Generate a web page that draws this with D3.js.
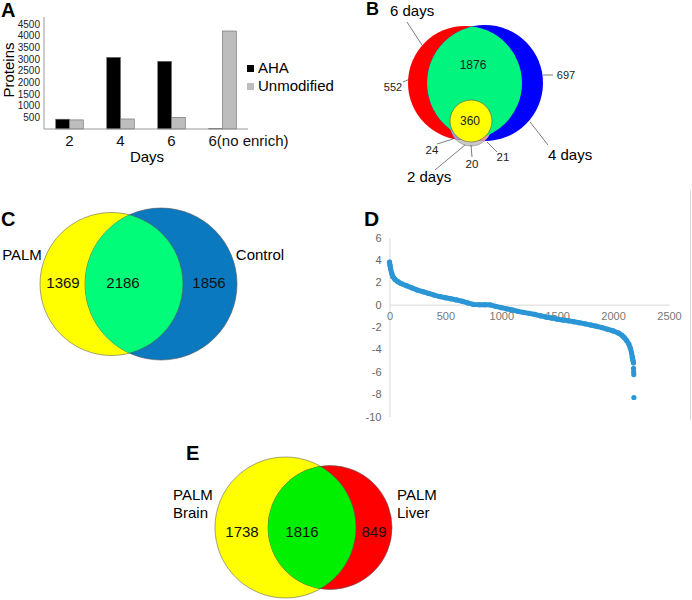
<!DOCTYPE html>
<html>
<head>
<meta charset="utf-8">
<script src="https://cdn.jsdelivr.net/npm/d3@7"></script>
<style>
  body { margin: 0; background: #fff; }
  svg { font-family: "Liberation Sans", Arial, sans-serif; }
</style>
</head>
<body>
<svg id="fig" width="692" height="600"></svg>
<script>
// ---------- data ----------
// A: proteins per labelling time
var dayLabels = ["2", "4", "6", "6(no enrich)"];
var seriesNames = ["AHA", "Unmodified"];
var ahaCounts = [420, 3070, 2900, 15];
var unmodCounts = [390, 430, 500, 4200];
var proteinTicks = [500, 1000, 1500, 2000, 2500, 3000, 3500, 4000, 4500];

// B: three-way overlap (6, 4, 2 days)
var setNamesB = ["6 days", "4 days", "2 days"];
var countsB = [552, 697, 1876, 360, 24, 20, 21]; // 6 only, 4 only, 6&4, all, 2&6, 2 only, 2&4

// C: PALM vs control
var setNamesC = ["PALM", "Control"];
var countsC = [1369, 2186, 1856];

// D: ranked ratios
var rankIdx = [0, 5, 10, 20, 30, 50, 75, 100, 150, 200, 250, 300, 350, 400, 450, 500, 550, 600, 650, 700,
  750, 800, 850, 900, 950, 1000, 1050, 1100, 1150, 1200, 1250, 1300, 1350, 1400, 1450, 1500, 1550, 1600,
  1650, 1700, 1750, 1800, 1850, 1900, 1950, 2000, 2050, 2080, 2100, 2120, 2140, 2155, 2165, 2172, 2178, 2182,
  2183, 2184, 2185, 2186];
var ratioVals = [3.8, 3.5, 3.2, 2.8, 2.5, 2.25, 2.05, 1.9, 1.7, 1.5, 1.3, 1.15, 1.0, 0.85, 0.72, 0.62, 0.52, 0.42, 0.3, 0.15,
  0.02, 0.0, 0.0, -0.02, -0.15, -0.27, -0.38, -0.48, -0.6, -0.7, -0.78, -0.88, -1.0, -1.1, -1.2, -1.3, -1.38, -1.45,
  -1.53, -1.62, -1.72, -1.82, -1.93, -2.05, -2.2, -2.35, -2.55, -2.75, -2.95, -3.2, -3.5, -3.9, -4.3, -4.7, -5.0, -5.2,
  -5.7, -6.0, -6.25, -8.3];
var ratioTicks = [-10, -8, -6, -4, -2, 0, 2, 4, 6];
var rankTicks = [0, 500, 1000, 1500, 2000, 2500];
var outlierCount = 4;

// E: brain vs liver
var setNamesE = [["PALM", "Brain"], ["PALM", "Liver"]];
var countsE = [1738, 1816, 849];

var svg = d3.select("#fig");

function panelLetter(t, x, y, size) {
  svg.append("text").attr("x", x).attr("y", y)
    .style("font-size", (size || 21) + "px").style("font-weight", "bold").text(t);
}

/* ---------------- Panel A ---------------- */
panelLetter("A", 1, 17, 20);
var gA = svg.append("g");
var x0 = d3.scaleBand().domain(dayLabels).range([44, 248]).paddingInner(0.46).paddingOuter(0.23);
var x1 = d3.scaleBand().domain(seriesNames).range([0, x0.bandwidth()]);
var yA = d3.scaleLinear().domain([0, 4500]).range([129, 24]);
var colA = { "AHA": "#000000", "Unmodified": "#bdbdbd" };

var barRows = dayLabels.map(function(d, i) {
  return { day: d, values: [{ s: "AHA", v: ahaCounts[i] }, { s: "Unmodified", v: unmodCounts[i] }] };
});
gA.selectAll("g.grp").data(barRows).enter().append("g")
  .attr("transform", function(d) { return "translate(" + x0(d.day) + ",0)"; })
  .selectAll("rect").data(function(d) { return d.values; }).enter().append("rect")
  .attr("x", function(d) { return x1(d.s); })
  .attr("y", function(d) { return yA(d.v); })
  .attr("width", x1.bandwidth())
  .attr("height", function(d) { return yA(0) - yA(d.v); })
  .attr("fill", function(d) { return colA[d.s]; })
  .attr("stroke", "#666").attr("stroke-width", 0.6);

var yAxisA = gA.append("g").attr("transform", "translate(44,0)")
  .call(d3.axisLeft(yA).tickValues(proteinTicks).tickSize(0).tickPadding(4).tickFormat(d3.format("d")));
yAxisA.select(".domain").attr("d", "M0,17V129").attr("stroke", "#999");
yAxisA.selectAll("text").style("font-size", "10px").attr("fill", "#222");

var xAxisA = gA.append("g").attr("transform", "translate(0,129)")
  .call(d3.axisBottom(x0).tickSize(0).tickPadding(6));
xAxisA.select(".domain").attr("d", "M44,0H248").attr("stroke", "#999");
xAxisA.selectAll("text").style("font-size", "15px").attr("fill", "#111")
  .attr("dx", function(d, i) { return i === 3 ? 26 : 0; });

gA.append("text").attr("x", 147).attr("y", 162).attr("text-anchor", "middle")
  .style("font-size", "15px").text("Days");
gA.append("text").attr("transform", "translate(14,70) rotate(-90)").attr("text-anchor", "middle")
  .style("font-size", "15px").text("Proteins");

var legA = gA.selectAll("g.leg").data(seriesNames).enter().append("g")
  .attr("transform", function(d, i) { return "translate(247," + (65 + i * 18) + ")"; });
legA.append("rect").attr("width", 7).attr("height", 7).attr("fill", function(d) { return colA[d]; });
legA.append("text").attr("x", 11).attr("y", 8).style("font-size", "15px").text(function(d) { return d; });

/* ---------------- Panel B ---------------- */
panelLetter("B", 366, 15, 18);
var gB = svg.append("g");
var cRed = { cx: 465, cy: 83, r: 57 }, cBlue = { cx: 485, cy: 83, r: 58 },
    cTwo = { cx: 471, cy: 125, r: 21 }, cAll = { cx: 471, cy: 121, r: 21 };
var defs = svg.append("defs");
defs.append("clipPath").attr("id", "clipRed").append("circle")
  .attr("cx", cRed.cx).attr("cy", cRed.cy).attr("r", cRed.r);
defs.append("clipPath").attr("id", "clipBlue").append("circle")
  .attr("cx", cBlue.cx).attr("cy", cBlue.cy).attr("r", cBlue.r);

function circ(g, c, fill, clip, stroke) {
  var el = g.append("circle").attr("cx", c.cx).attr("cy", c.cy).attr("r", c.r).attr("fill", fill);
  if (clip) el.attr("clip-path", "url(#" + clip + ")");
  if (stroke) el.attr("stroke", stroke).attr("stroke-width", 0.6);
  return el;
}
circ(gB, cTwo, "#c9c9c9", null, "#888");
circ(gB, cRed, "#ff0000");
circ(gB, cBlue, "#0000ff");
circ(gB, cTwo, "#9b9be8", "clipRed");
circ(gB, cTwo, "#f29a8c", "clipBlue");
circ(gB, cBlue, "#00f47e", "clipRed");
circ(gB, cAll, "#ffff00", null, "#555");

var leadersB = [
  [407, 22, 422, 45], [403, 82, 410, 79], [543, 75, 553, 75], [530, 122, 548, 145],
  [437, 144, 453, 139], [435, 170, 465, 145], [472, 157, 471, 145], [497, 152, 487, 142]
];
gB.selectAll("line.ld").data(leadersB).enter().append("line")
  .attr("x1", function(d) { return d[0]; }).attr("y1", function(d) { return d[1]; })
  .attr("x2", function(d) { return d[2]; }).attr("y2", function(d) { return d[3]; })
  .attr("stroke", "#444").attr("stroke-width", 0.7);

var namePosB = [[390, 16], [548, 160], [407, 182]];
gB.selectAll("text.nm").data(setNamesB).enter().append("text")
  .attr("x", function(d, i) { return namePosB[i][0]; }).attr("y", function(d, i) { return namePosB[i][1]; })
  .style("font-size", "15px").text(function(d) { return d; });
var numPosB = [[393, 91, 11], [566, 79, 11], [473, 69, 12], [470, 125, 12], [432, 154, 11.5], [472, 168, 11.5], [503, 161, 11.5]];
gB.selectAll("text.num").data(countsB).enter().append("text")
  .attr("x", function(d, i) { return numPosB[i][0]; }).attr("y", function(d, i) { return numPosB[i][1]; })
  .attr("text-anchor", "middle")
  .style("font-size", function(d, i) { return numPosB[i][2] + "px"; })
  .attr("fill", "#222").text(function(d) { return d; });

/* ---------------- Panel C ---------------- */
panelLetter("C", 1, 226, 20);
var gC = svg.append("g");
var cYel = { cx: 111.5, cy: 284, r: 71.5 }, cCtl = { cx: 161, cy: 284, r: 76 };
defs.append("clipPath").attr("id", "clipYelC").append("circle")
  .attr("cx", cYel.cx).attr("cy", cYel.cy).attr("r", cYel.r);
defs.append("clipPath").attr("id", "clipCtlC").append("circle")
  .attr("cx", cCtl.cx).attr("cy", cCtl.cy).attr("r", cCtl.r);
circ(gC, cYel, "#ffff00", null, "#666");
circ(gC, cCtl, "#0b79bf", null, "#555");
circ(gC, cCtl, "#00fc79", "clipYelC");
gC.append("circle").attr("cx", cYel.cx).attr("cy", cYel.cy).attr("r", cYel.r)
  .attr("fill", "none").attr("stroke", "#555").attr("stroke-width", 0.6).attr("clip-path", "url(#clipCtlC)");

var namePosC = [[22, 260], [260, 260]];
gC.selectAll("text.nm").data(setNamesC).enter().append("text")
  .attr("x", function(d, i) { return namePosC[i][0]; }).attr("y", function(d, i) { return namePosC[i][1]; })
  .attr("text-anchor", "middle").style("font-size", "15px").text(function(d) { return d; });
var numPosC = [63, 123, 209];
gC.selectAll("text.num").data(countsC).enter().append("text")
  .attr("x", function(d, i) { return numPosC[i]; }).attr("y", 287.5)
  .attr("text-anchor", "middle").style("font-size", "15px").attr("fill", "#111")
  .text(function(d) { return d; });

/* ---------------- Panel D ---------------- */
panelLetter("D", 364, 226, 21);
var gD = svg.append("g");
var xD = d3.scaleLinear().domain([0, 2500]).range([389.5, 669]);
var yD = d3.scaleLinear().domain([-10, 6]).range([416.5, 237.5]);

gD.append("line").attr("x1", 690.5).attr("x2", 690.5).attr("y1", 190).attr("y2", 420)
  .attr("stroke", "#d9d9d9");
var yAxD = gD.append("g").attr("transform", "translate(389.5,0)")
  .call(d3.axisLeft(yD).tickValues(ratioTicks).tickSize(0).tickPadding(8).tickFormat(d3.format("d")));
yAxD.select(".domain").attr("stroke", "#d9d9d9");
yAxD.selectAll("text").style("font-size", "11px").attr("fill", "#666")
  .text(function(d) { return d < 0 ? "-" + Math.abs(d) : d; });
var xAxD = gD.append("g").attr("transform", "translate(0," + yD(0) + ")")
  .call(d3.axisBottom(xD).tickValues(rankTicks).tickSize(0).tickPadding(8).tickFormat(d3.format("d")));
xAxD.select(".domain").attr("stroke", "#d9d9d9");
xAxD.selectAll("text").style("font-size", "11px").attr("fill", "#777");

var ptsD = rankIdx.map(function(r, i) { return { r: r, v: ratioVals[i] }; });
var mainPts = ptsD.slice(0, ptsD.length - outlierCount);
gD.append("path").datum(mainPts)
  .attr("d", d3.line().x(function(d) { return xD(d.r); }).y(function(d) { return yD(d.v); }))
  .attr("fill", "none").attr("stroke", "#2b96d6").attr("stroke-width", 5)
  .attr("stroke-linecap", "round").attr("stroke-linejoin", "round");
gD.selectAll("circle").data(ptsD).enter().append("circle")
  .attr("cx", function(d) { return xD(d.r); }).attr("cy", function(d) { return yD(d.v); })
  .attr("r", 2.6).attr("fill", "#2b96d6");

/* ---------------- Panel E ---------------- */
panelLetter("E", 186, 460, 20);
var gE = svg.append("g");
var cBrain = { cx: 285.5, cy: 527.5, r: 70.5 }, cLiver = { cx: 330, cy: 527.5, r: 62 };
defs.append("clipPath").attr("id", "clipBrainE").append("circle")
  .attr("cx", cBrain.cx).attr("cy", cBrain.cy).attr("r", cBrain.r);
defs.append("clipPath").attr("id", "clipLiverE").append("circle")
  .attr("cx", cLiver.cx).attr("cy", cLiver.cy).attr("r", cLiver.r);
circ(gE, cBrain, "#ffff00", null, "#666");
circ(gE, cLiver, "#ff0000", null, "#555");
circ(gE, cLiver, "#00f000", "clipBrainE");
gE.append("circle").attr("cx", cBrain.cx).attr("cy", cBrain.cy).attr("r", cBrain.r)
  .attr("fill", "none").attr("stroke", "#555").attr("stroke-width", 0.6).attr("clip-path", "url(#clipLiverE)");

var namePosE = [173, 397];
setNamesE.forEach(function(lines, i) {
  gE.selectAll(null).data(lines).enter().append("text")
    .attr("x", namePosE[i]).attr("y", function(d, j) { return 500 + j * 18; })
    .style("font-size", "15px").text(function(d) { return d; });
});
var numPosE = [242, 302, 374];
gE.selectAll("text.num").data(countsE).enter().append("text")
  .attr("x", function(d, i) { return numPosE[i]; }).attr("y", 536.5)
  .attr("text-anchor", "middle").style("font-size", "15px").attr("fill", "#111")
  .text(function(d) { return d; });
</script>
</body>
</html>
